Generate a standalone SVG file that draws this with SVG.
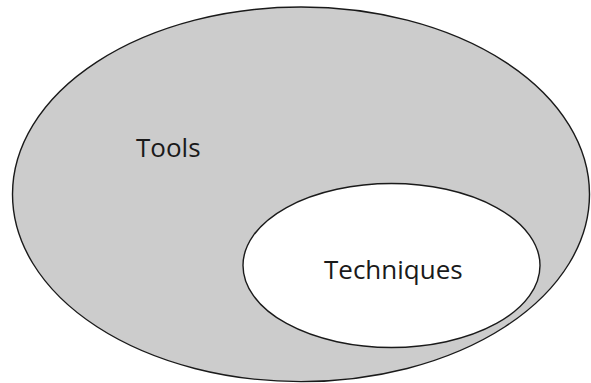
<svg xmlns="http://www.w3.org/2000/svg" width="591" height="383" viewBox="0 0 591 383">
<style>
.shape{stroke:#1a1a1a;stroke-width:1.4}
.lbl{font-family:"Open Sans","Noto Sans","Liberation Sans",sans-serif;font-size:26px;fill:#1a1a1a}
</style>
<rect width="591" height="383" fill="#ffffff"/>
<g id="tools">
<ellipse class="shape" cx="301" cy="194.3" rx="288.5" ry="187.3" fill="#cccccc"/>
<text class="lbl" x="136" y="157">Tools</text>
</g>
<g id="techniques">
<ellipse class="shape" cx="391.5" cy="265.5" rx="148.5" ry="82" fill="#ffffff"/>
<text class="lbl" x="324" y="279">Techniques</text>
</g>
<g id="connectors"/>
</svg>
